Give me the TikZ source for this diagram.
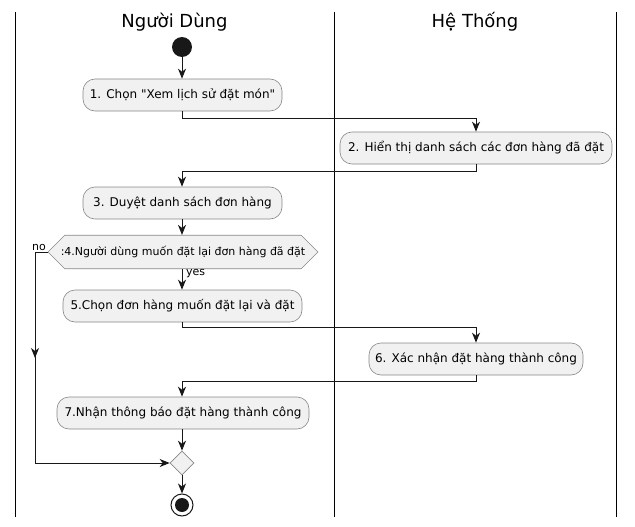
\documentclass[tikz,border=0pt]{standalone}
\usepackage{fontspec}
\setmainfont{DejaVu Sans}
\usetikzlibrary{arrows.meta,shapes.geometric,shapes.misc}
\definecolor{linec}{HTML}{181818}
\definecolor{boxfill}{HTML}{F1F1F1}
\definecolor{boxdraw}{HTML}{888888}
\tikzset{
  act/.style={draw=boxdraw, fill=boxfill, line width=0.6pt, rounded corners=12pt,
    minimum height=32pt, inner xsep=0pt, font=\fontsize{12}{14}\selectfont, anchor=center},
  flow/.style={draw=linec, line width=1pt, -{Stealth[length=10pt,width=8pt,inset=3pt]}},
  plainline/.style={draw=linec, line width=1pt},
  lane/.style={draw=black, line width=1pt},
  lanetitle/.style={font=\fontsize{18}{21}\selectfont},
  lbl/.style={font=\fontsize{11}{13}\selectfont, inner sep=0pt}
}
\begin{document}
\begin{tikzpicture}[x=1pt,y=-1pt]
\useasboundingbox (0,0) rectangle (635,527);
% lanes
\draw[lane] (15,12) -- (15,517);
\draw[lane] (334,12) -- (334,517);
\draw[lane] (616,12) -- (616,517);
\node[lanetitle] (t1) at (174.5,22) {Người Dùng};
\node[lanetitle] (t2) at (475,22) {Hệ Thống};
% start
\node[circle, fill=linec, minimum size=20pt, inner sep=0pt] (start) at (182,47) {};
\node[act, minimum width=199pt] (a1) at (182.5,95) {1. Chọn \textquotedbl Xem lịch sử đặt món\textquotedbl};
\node[act, minimum width=272pt] (a2) at (476,148) {2. Hiển thị danh sách các đơn hàng đã đặt};
\node[act, minimum width=199pt] (a3) at (182.5,203) {3. Duyệt danh sách đơn hàng };
\node[draw=boxdraw, fill=boxfill, line width=0.6pt, chamfered rectangle, chamfered rectangle xsep=2cm,
  chamfered rectangle angle=45, chamfered rectangle sep=11pt, minimum height=22pt, minimum width=270pt,
  inner sep=0pt, font=\fontsize{11}{13}\selectfont] (d4) at (183,252) {:4.Người dùng muốn đặt lại đơn hàng đã đặt};
\node[act, minimum width=239pt] (a5) at (182.5,306) {5.Chọn đơn hàng muốn đặt lại và đặt};
\node[act, minimum width=214pt] (a6) at (476,359) {6. Xác nhận đặt hàng thành công};
\node[act, minimum width=252pt] (a7) at (183,413) {7.Nhận thông báo đặt hàng thành công};
\node[diamond, draw=boxdraw, fill=boxfill, line width=0.6pt, minimum size=24pt, inner sep=0pt] (m) at (182,463) {};
\node[circle, draw=linec, line width=1pt, fill=white, minimum size=22pt, inner sep=0pt] (endc) at (182,505) {};
\node[circle, fill=linec, minimum size=14pt, inner sep=0pt] (endi) at (182,505) {};
% labels
\node[lbl, anchor=south east] (no) at (46,251) {no};
\node[lbl, anchor=west] (yes) at (186,274) {yes};
% connectors
\path[flow] (start) -- (a1.north -| start);
\path[flow] (a1.south -| start) -- ++(0,7) -| (a2.north);
\path[flow] (a2.south) -- ++(0,7) -| (a3.north -| start);
\path[flow] (a3.south -| start) -- (d4.north -| start);
\path[flow] (d4.south -| start) -- (a5.north -| start);
\path[flow] (a5.south -| start) -- ++(0,5) -| (a6.north);
\path[flow] (a6.south) -- ++(0,6) -| (a7.north -| start);
\path[flow] (a7.south -| start) -- (m.north);
\coordinate (nob) at (35,252);
\coordinate (noarrow) at (35,358);
\coordinate (noc) at (35,463);
\path[plainline] (d4.west) -- (nob) -- (noc);
\path[flow] (nob) -- (noarrow);
\path[flow] (noc) -- (m.west);
\path[flow] (m.south) -- (endc.north);
\end{tikzpicture}
\end{document}
